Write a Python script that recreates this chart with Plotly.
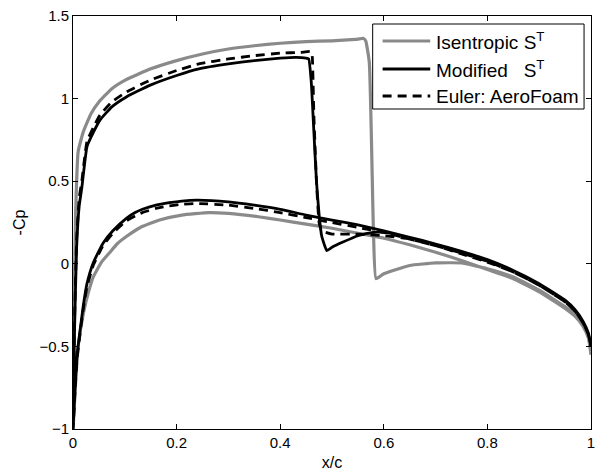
import plotly.graph_objects as go

# ---------------- data ----------------
# Isentropic S^T (grey)
iso_up_x = [0, 0.002, 0.005, 0.01, 0.02, 0.035, 0.05, 0.075, 0.1, 0.15, 0.2, 0.25, 0.3, 0.35,
            0.4, 0.45, 0.5, 0.53, 0.55, 0.56, 0.565, 0.572, 0.58, 0.585, 0.6, 0.65, 0.7, 0.75,
            0.8, 0.85, 0.9, 0.95, 0.97, 0.985, 0.995, 1.0]
iso_up_y = [-1, -0.3, 0.3, 0.68, 0.8, 0.91, 0.98, 1.06, 1.11, 1.18, 1.23, 1.27, 1.30, 1.32,
            1.335, 1.345, 1.35, 1.355, 1.36, 1.365, 1.35, 1.22, 0.2, -0.09, -0.06, -0.01, 0.005,
            0.005, -0.03, -0.08, -0.16, -0.26, -0.31, -0.37, -0.44, -0.53]
iso_lo_x = [0, 0.005, 0.01, 0.02, 0.03, 0.039, 0.055, 0.07, 0.085, 0.103, 0.13, 0.167, 0.21,
            0.262, 0.3, 0.358, 0.4, 0.45, 0.5, 0.55, 0.6, 0.65, 0.7, 0.75, 0.8, 0.85, 0.9, 0.95,
            0.97, 0.985, 0.995, 1.0]
iso_lo_y = [-1, -0.72, -0.5, -0.3, -0.17, -0.08, 0.01, 0.065, 0.12, 0.165, 0.22, 0.265, 0.295,
            0.31, 0.305, 0.285, 0.265, 0.24, 0.215, 0.185, 0.155, 0.115, 0.07, 0.02, -0.035,
            -0.09, -0.17, -0.27, -0.32, -0.38, -0.45, -0.55]

# Modified S^T (black solid)
mod_up_x = [0, 0.003, 0.007, 0.012, 0.017, 0.027, 0.04, 0.052, 0.075, 0.103, 0.148, 0.2, 0.243,
            0.3, 0.35, 0.4, 0.43, 0.45, 0.455, 0.46, 0.465, 0.47, 0.475, 0.48, 0.49, 0.5, 0.52,
            0.55, 0.58, 0.6, 0.65, 0.7, 0.75, 0.8, 0.85, 0.9, 0.95, 0.97, 0.985, 0.995, 1.0]
mod_up_y = [-1, -0.4, 0.1, 0.35, 0.46, 0.71, 0.8, 0.87, 0.95, 1.01, 1.08, 1.14, 1.18, 1.21, 1.23,
            1.245, 1.25, 1.245, 1.24, 1.1, 0.8, 0.5, 0.3, 0.17, 0.08, 0.1, 0.13, 0.17, 0.19, 0.19,
            0.16, 0.12, 0.07, 0.02, -0.04, -0.12, -0.22, -0.28, -0.35, -0.42, -0.5]
mod_lo_x = [0, 0.004, 0.008, 0.013, 0.02, 0.027, 0.039, 0.058, 0.077, 0.103, 0.12, 0.134, 0.16,
            0.186, 0.21, 0.24, 0.3, 0.35, 0.4, 0.45, 0.5, 0.55, 0.6, 0.65, 0.7, 0.75, 0.8, 0.85,
            0.9, 0.95, 0.97, 0.985, 0.995, 1.0]
mod_lo_y = [-1, -0.75, -0.55, -0.42, -0.25, -0.12, 0.005, 0.125, 0.2, 0.275, 0.31, 0.33, 0.355,
            0.37, 0.38, 0.385, 0.375, 0.355, 0.33, 0.295, 0.265, 0.235, 0.2, 0.16, 0.12, 0.075,
            0.025, -0.04, -0.12, -0.22, -0.28, -0.35, -0.42, -0.5]

# Euler: AeroFoam (black dashed)
eul_up_x = [0, 0.003, 0.007, 0.012, 0.017, 0.027, 0.04, 0.052, 0.075, 0.103, 0.148, 0.2, 0.243,
            0.3, 0.35, 0.4, 0.44, 0.46, 0.462, 0.465, 0.47, 0.475, 0.48, 0.5, 0.55, 0.6, 0.65,
            0.7, 0.75, 0.8, 0.85, 0.9, 0.95, 0.97, 0.985, 0.995, 1.0]
eul_up_y = [-1, -0.35, 0.15, 0.4, 0.5, 0.74, 0.83, 0.9, 0.98, 1.04, 1.11, 1.17, 1.21, 1.24, 1.26,
            1.275, 1.28, 1.285, 1.25, 0.9, 0.5, 0.25, 0.2, 0.18, 0.18, 0.17, 0.15, 0.11, 0.06,
            0.01, -0.05, -0.13, -0.23, -0.29, -0.36, -0.43, -0.5]
eul_lo_x = mod_lo_x
eul_lo_y = [-1, -0.77, -0.57, -0.44, -0.27, -0.14, -0.01, 0.11, 0.185, 0.26, 0.29, 0.31, 0.335,
            0.35, 0.36, 0.365, 0.355, 0.335, 0.31, 0.28, 0.25, 0.22, 0.19, 0.15, 0.11, 0.065,
            0.015, -0.05, -0.13, -0.23, -0.29, -0.36, -0.43, -0.5]

x_ticks = [0, 0.2, 0.4, 0.6, 0.8, 1]
y_ticks = [-1, -0.5, 0, 0.5, 1, 1.5]

legend_names = ["Isentropic S<sup>T</sup>",
                "Modified\u00a0\u00a0\u00a0S<sup>T</sup>",
                "Euler: AeroFoam"]

FONT = "Liberation Sans, Arial, Helvetica, sans-serif"
GREY = "#8a8a8a"
STYLES = [dict(color=GREY, width=3.2),
          dict(color="black", width=2.8),
          dict(color="black", width=2.8, dash="9px,6px")]


def closed(upx, upy, lox, loy):
    # trailing edge -> leading edge along the upper side, then back along the lower side
    return list(reversed(upx)) + lox[1:], list(reversed(upy)) + loy[1:]


series = [closed(iso_up_x, iso_up_y, iso_lo_x, iso_lo_y),
          closed(mod_up_x, mod_up_y, mod_lo_x, mod_lo_y),
          closed(eul_up_x, eul_up_y, eul_lo_x, eul_lo_y)]

fig = go.Figure()
for (xs, ys), name, st in zip(series, legend_names, STYLES):
    fig.add_trace(go.Scatter(x=xs, y=ys, mode="lines", name=name,
                             line=dict(**st, shape="spline", smoothing=0.4),
                             showlegend=False))

# ---- plot geometry (pixels) ----
W, H = 598, 471
L, R, T, B = 73, 3, 16, 42
PW, PH = W - L - R, H - T - B


def px(xp):
    return (xp - L) / PW


def py(yp):
    return 1 - (yp - T) / PH


# ---- legend box drawn in paper space, MATLAB style ----
shapes = [dict(type="rect", xref="paper", yref="paper",
               x0=px(375), x1=px(588), y0=py(109), y1=py(24),
               line=dict(color="black", width=1), fillcolor="white", layer="above")]
annotations = []
row_y = [41, 69, 96]
for name, st, ry in zip(legend_names, STYLES, row_y):
    shapes.append(dict(type="line", xref="paper", yref="paper",
                       x0=px(385), x1=px(433), y0=py(ry), y1=py(ry),
                       line=st, layer="above"))
    annotations.append(dict(xref="paper", yref="paper", x=px(437), y=py(ry),
                            xanchor="left", yanchor="middle", showarrow=False,
                            text=name, font=dict(family=FONT, size=19, color="black")))

axis_common = dict(showline=True, linecolor="black", linewidth=1, mirror="ticks",
                   ticks="inside", ticklen=5, tickcolor="black", showgrid=False,
                   zeroline=False, ticklabeloverflow="allow",
                   tickfont=dict(family=FONT, size=15, color="black"))

fig.update_layout(
    width=W, height=H,
    margin=dict(l=L, r=R, t=T, b=B),
    paper_bgcolor="white", plot_bgcolor="white",
    font=dict(family=FONT, color="black"),
    showlegend=False,
    xaxis=dict(range=[0, 1], tickvals=x_ticks,
               title=dict(text="x/c", font=dict(size=16, family=FONT), standoff=6),
               **axis_common),
    yaxis=dict(range=[-1, 1.5], tickvals=y_ticks,
               title=dict(text="-Cp", font=dict(size=16, family=FONT), standoff=9),
               **axis_common),
    shapes=shapes,
    annotations=annotations,
)

fig.write_html("out.html")
